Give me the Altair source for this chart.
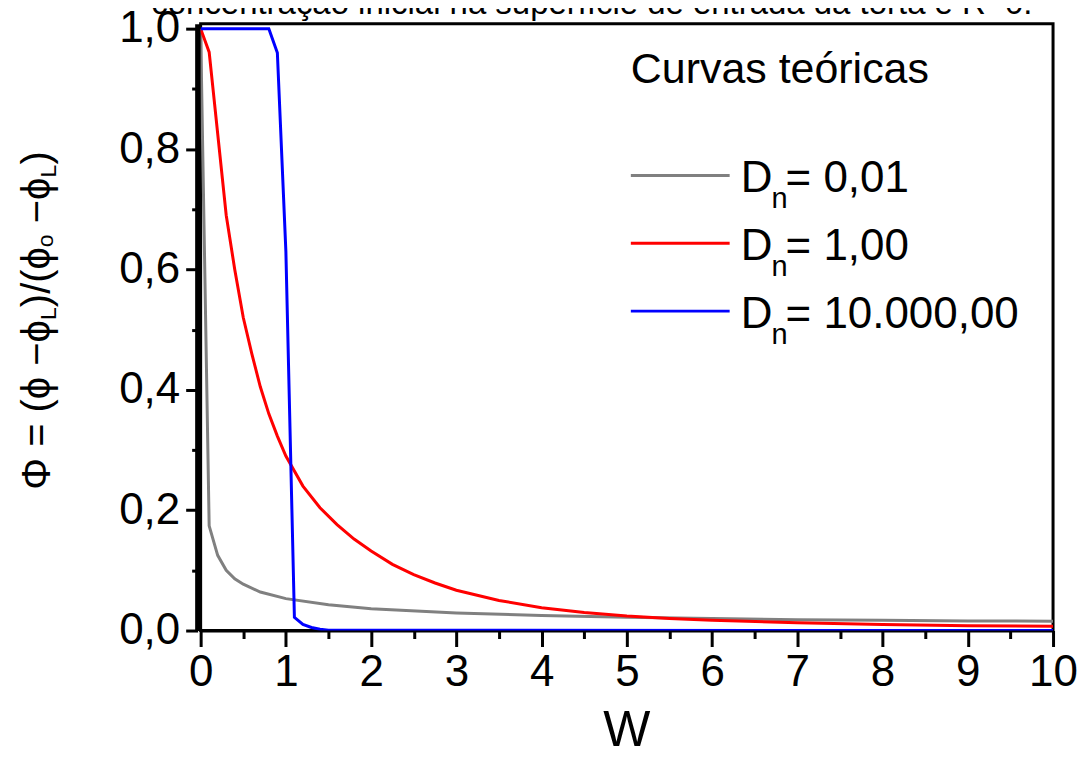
import altair as alt
import pandas as pd

FONT = "Liberation Sans"

# ---------------- data ----------------
gray_x = [0, 0.1, 0.2, 0.3, 0.4, 0.5, 0.7, 1.0, 1.5, 2.0, 3.0, 4.0, 5.0, 6.0, 7.0, 8.0, 9.0, 10.0]
gray_y = [1.0, 0.174, 0.125, 0.1, 0.086, 0.077, 0.064, 0.053, 0.043, 0.036, 0.029, 0.025, 0.022, 0.020, 0.018, 0.017, 0.016, 0.0155]

red_x = [0, 0.1, 0.3, 0.4, 0.5, 0.6, 0.7, 0.8, 0.9, 1.0, 1.2, 1.4, 1.6, 1.8, 2.0, 2.25, 2.5, 2.75,
         3.0, 3.5, 4.0, 4.5, 5.0, 5.5, 6.0, 7.0, 8.0, 9.0, 10.0]
red_y = [1.0, 0.961, 0.69, 0.60, 0.52, 0.46, 0.405, 0.36, 0.323, 0.29, 0.24, 0.204, 0.176, 0.152, 0.132,
         0.110, 0.093, 0.079, 0.067, 0.050, 0.038, 0.030, 0.024, 0.020, 0.017, 0.013, 0.010, 0.008, 0.007]

blue_x = [0, 0.8, 0.9, 1.0, 1.1, 1.2, 1.3, 1.4, 1.5, 10.0]
blue_y = [1.0, 1.0, 0.96, 0.63, 0.022, 0.010, 0.005, 0.002, 0.0005, 0.0]

x_major = [0, 1, 2, 3, 4, 5, 6, 7, 8, 9, 10]
x_minor = [0.5, 1.5, 2.5, 3.5, 4.5, 5.5, 6.5, 7.5, 8.5, 9.5]
y_major = [0.0, 0.2, 0.4, 0.6, 0.8, 1.0]
y_minor = [0.1, 0.3, 0.5, 0.7, 0.9]

legend_title = "Curvas teóricas"
legend_values = ["= 0,01", "= 1,00", "= 10.000,00"]
legend_colors = ["#808080", "#ff0000", "#0000ff"]
top_text = "concentração inicial na superfície de entrada da torta é R=0."
x_title = "W"
# y title pieces: (text, kind) kind: main / sub / subo
y_title_pieces = [("Φ = (ϕ −ϕ", "main"), ("L", "sub"), (")/(ϕ", "main"), ("o", "subo"),
                  ("−ϕ", "main"), ("L", "sub"), (")", "main")]
y_title_starts = [467, 297, 284, 224, 200, 154, 141]

# ---------------- scales / axes ----------------
x_scale = alt.Scale(domain=[0, 10], nice=False, zero=False)
y_scale = alt.Scale(domain=[0, 1.0083], nice=False, zero=False)

main_x_axis = alt.Axis(values=x_major, format="d", title=None, grid=False, orient="bottom",
                       domainWidth=3, domainColor="black", tickWidth=3, tickSize=16, tickColor="black",
                       labelFontSize=44, labelFont=FONT, labelColor="black", labelPadding=4,
                       labelFlush=False, labelOverlap=False)
main_y_axis = alt.Axis(values=y_major, title=None, grid=False, orient="left", offset=3,
                       labelExpr="replace(format(datum.value, '.1f'), '.', ',')",
                       domainWidth=6, domainColor="black", tickWidth=3, tickSize=12, tickColor="black",
                       labelFontSize=44, labelFont=FONT, labelColor="black", labelPadding=6,
                       labelOverlap=False, labelFlush=False)
minor_x_axis = alt.Axis(values=x_minor, title=None, grid=False, orient="bottom", labels=False,
                        domain=False, tickWidth=3, tickSize=8, tickColor="black")
minor_y_axis = alt.Axis(values=y_minor, title=None, grid=False, orient="left", labels=False, offset=3,
                        domain=False, tickWidth=3, tickSize=6, tickColor="black")


def series(xs, ys, color, with_axes):
    df = pd.DataFrame({"x": xs, "y": ys})
    return alt.Chart(df).mark_line(color=color, strokeWidth=3, clip=True).encode(
        x=alt.X("x:Q", scale=x_scale, axis=main_x_axis if with_axes else None),
        y=alt.Y("y:Q", scale=y_scale, axis=main_y_axis if with_axes else None),
        order=alt.Order("x:Q"),
    )


gray = series(gray_x, gray_y, legend_colors[0], True)
red = series(red_x, red_y, legend_colors[1], False)
blue = series(blue_x, blue_y, legend_colors[2], False)

minor = alt.Chart(pd.DataFrame({"x": gray_x, "y": gray_y})).mark_line(opacity=0).encode(
    x=alt.X("x:Q", scale=x_scale, axis=minor_x_axis),
    y=alt.Y("y:Q", scale=y_scale, axis=minor_y_axis),
)


def text(s, px, py, size, align="left", angle=0):
    return alt.Chart(pd.DataFrame({"t": [s]})).mark_text(
        font=FONT, fontSize=size, color="black", align=align, baseline="alphabetic", angle=angle
    ).encode(text="t:N", x=alt.value(px), y=alt.value(py))


layers = [gray, red, blue, minor]

# top (cut) text and axis title
layers.append(text(top_text, 392, -10, 33, align="center"))
layers.append(text(x_title, 427, 724, 50, align="center"))

# rotated y title built from pieces
for (s, kind), start in zip(y_title_pieces, y_title_starts):
    if kind == "sub":
        layers.append(text(s, -145, start, 23, angle=270))
    elif kind == "subo":
        layers.append(text(s, -148, start, 23, angle=270))
    else:
        layers.append(text(s, -151, start, 40, angle=270))

# legend
layers.append(text(legend_title, 431, 59, 43))
row_line_y = [152, 220, 288]
for val, col, ly in zip(legend_values, legend_colors, row_line_y):
    layers.append(
        alt.Chart(pd.DataFrame({"c": [col]})).mark_rule(color=col, strokeWidth=3).encode(
            x=alt.value(431), x2=alt.value(530), y=alt.value(ly)
        )
    )
    layers.append(text("D", 541, ly + 17, 44))
    layers.append(text("n", 572, ly + 33, 29))
    layers.append(text(val, 586, ly + 17, 44))

chart = alt.layer(*layers).resolve_axis(x="independent", y="independent").properties(
    width=854, height=608,
    padding={"left": 193, "top": 15, "right": 25, "bottom": 117},
    autosize=alt.AutoSizeParams(type="none"),
    background="white",
).configure_view(stroke="black", strokeWidth=3)

chart.save("out.html", embed_options={"renderer": "svg", "actions": False})
